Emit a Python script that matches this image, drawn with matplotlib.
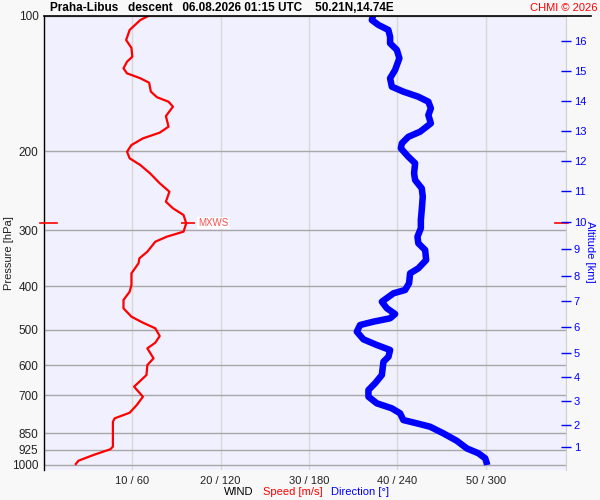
import matplotlib
matplotlib.use('Agg')
import matplotlib.pyplot as plt
from matplotlib.lines import Line2D
from matplotlib.ticker import NullLocator

plt.rcParams['font.family'] = ['Liberation Sans', 'DejaVu Sans']

# wind speed profile (hPa, m/s)
speed_p = [100, 102.1, 107.4, 113.1, 117.8, 123.2, 126.4, 130.8, 134.2, 137.6,
           140.8, 147.4, 151.7, 155.2, 159.2, 167.1, 176.4, 181.9, 187.3, 193.8,
           200.6, 207.5, 214.7, 224.0, 235.8, 246.2, 259.2, 268.1, 277.5, 289.5,
           302.2, 310.1, 318.2, 334.9, 346.5, 355.5, 374.2, 397.2, 411.1, 429.0,
           447.7, 467.4, 482.0, 496.1, 516.1, 534.2, 549.8, 578.7, 598.9, 630.4,
           669.3, 704.6, 735.3, 764.9, 787.2, 801.1, 850.3, 910.6, 922.6, 950.0,
           978.2, 995.0]
speed = [11.8, 10.9, 9.7, 9.3, 9.9, 10.0, 9.4, 9.0, 9.4, 10.9,
         11.9, 12.1, 12.8, 14.1, 14.6, 13.8, 14.1, 13.1, 11.2, 9.9,
         9.4, 9.7, 10.9, 12.0, 13.1, 14.2, 13.8, 14.6, 15.8, 16.1,
         15.8, 13.9, 12.6, 11.7, 10.8, 10.7, 9.9, 9.9, 9.7, 9.0,
         9.0, 9.9, 11.2, 12.6, 13.1, 12.6, 11.7, 12.4, 11.7, 11.6,
         10.2, 11.2, 10.5, 9.7, 8.0, 7.8, 7.8, 7.8, 7.5, 5.6,
         3.9, 3.6]

# wind direction profile (hPa, deg)
dir_p = [100, 102.1, 104.7, 107.4, 111.2, 115.0, 119.0, 124.2, 131.9, 137.6,
         143.7, 147.4, 151.3, 155.2, 160.6, 166.2, 173.4, 181.0, 185.8, 192.1,
         197.1, 205.8, 212.8, 224.0, 231.9, 242.0, 252.6, 270.5, 284.7, 297.0,
         310.1, 320.8, 332.0, 349.5, 364.7, 374.2, 393.8, 407.6, 414.6, 432.8,
         447.7, 461.0, 471.3, 479.5, 487.8, 504.8, 525.0, 540.5, 554.5, 574.0,
         588.8, 630.4, 657.7, 680.8, 704.6, 728.9, 747.8, 767.3, 794.2, 807.7,
         821.9, 850.3, 883.3, 918.4, 941.7, 966.2, 991.3, 1000]
direction = [223.5, 222.7, 227.2, 233.9, 235.1, 235.1, 239.7, 241.4, 238.5, 235.1,
             236.3, 244.1, 254.3, 261.1, 262.8, 261.1, 262.8, 255.5, 247.5, 243.1,
             242.4, 247.5, 252.1, 251.4, 252.1, 256.6, 257.3, 256.6, 256.0, 256.0,
             253.7, 254.3, 258.9, 259.6, 254.3, 248.7, 248.0, 245.3, 237.4, 229.5,
             232.9, 238.5, 235.1, 223.8, 214.7, 212.5, 217.0, 226.1, 235.1, 234.0,
             230.6, 229.5, 224.9, 220.4, 220.4, 226.1, 236.3, 241.9, 244.1, 253.3,
             262.3, 271.3, 280.4, 287.2, 295.1, 299.7, 300.8, 301.0]

pressure_ticks = [100, 200, 300, 400, 500, 600, 700, 850, 925, 1000]
speed_ticks = [10, 20, 30, 40, 50]
speed_labels = ['10 / 60', '20 / 120', '30 / 180', '40 / 240', '50 / 300']
alt_km = list(range(1, 17))
alt_p = [911.7, 814.5, 720.3, 636.8, 563.1, 492.7, 431.2, 379.5, 330.3, 287.6,
         245.3, 210.3, 180.3, 154.6, 132.6, 113.7]

mxws_p = 288.5
mxws_speed = 16.3

x_max = 59.1
p_bottom = 1026

fig = plt.figure(figsize=(6, 5), dpi=100, facecolor='#f8f8f8')
ax = fig.add_axes([44 / 600, 30 / 500, 522 / 600, 454 / 500])
ax.set_facecolor('#f0f0fe')

ax.set_yscale('log')
ax.set_ylim(p_bottom, 100)
ax.set_xlim(0, x_max)
ax.yaxis.set_minor_locator(NullLocator())
ax.set_yticks(pressure_ticks)
ax.set_yticklabels([str(p) for p in pressure_ticks])
ax.set_xticks(speed_ticks)
ax.set_xticklabels(speed_labels)
ax.tick_params(axis='y', length=0, pad=4, labelsize=8.5, colors='#222222')
ax.tick_params(axis='x', length=0, pad=4, labelsize=8, colors='#222222')

ax.grid(axis='y', color='#a8a8a8', lw=1.0)
ax.grid(axis='x', color='#d8d8d8', lw=1.0)
ax.set_axisbelow(True)

ax.spines['left'].set_color('black')
ax.spines['left'].set_linewidth(1.0)
ax.spines['bottom'].set_visible(False)
ax.spines['top'].set_visible(False)
ax.spines['right'].set_color('#d0d0d0')

# rychlost vetru
ax.plot(speed, speed_p, color='#ff0000', lw=1.6, solid_joinstyle='round', zorder=3)

# smer vetru na vlastni ose
ax2 = ax.twiny()
ax2.set_xlim(0, x_max * 6)
ax2.set_xticks([])
for s in ax2.spines.values():
    s.set_visible(False)
ax2.plot(direction, dir_p, color='#0000ff', lw=4.7, solid_capstyle='butt',
         solid_joinstyle='round', zorder=3)

# vyska vpravo
ax3 = ax.twinx()
ax3.set_yscale('log')
ax3.set_ylim(p_bottom, 100)
ax3.yaxis.set_minor_locator(NullLocator())
ax3.set_yticks(alt_p)
ax3.set_yticklabels([str(a) for a in alt_km])
ax3.tick_params(axis='y', direction='inout', length=7, width=1, colors='#0000ff',
                labelsize=8, pad=2)
for s in ax3.spines.values():
    s.set_visible(False)

# MXWS
ax.plot([mxws_speed], [mxws_p], marker='_', ms=10, mew=1.2, color='#ff0000', zorder=4)
ax.annotate('MXWS', (mxws_speed, mxws_p), xytext=(7.5, 0), textcoords='offset points',
            color='#ff5050', fontsize=7, va='center', ha='left', zorder=5,
            bbox=dict(facecolor='white', edgecolor='none', pad=0.8))
tr = ax.get_yaxis_transform()
ax.plot([-0.008, 0.025], [mxws_p, mxws_p], color='#ff0000', lw=1.2,
        transform=tr, clip_on=False, zorder=5)
ax.plot([0.979, 1.004], [mxws_p, mxws_p], color='#ff0000', lw=1.2,
        transform=tr, clip_on=False, zorder=5)

fig.add_artist(Line2D([44 / 600, 591 / 600], [1 - 16 / 500, 1 - 16 / 500],
                      color='black', lw=1.2))

fig.text(50 / 600, 1 - 8 / 500,
         'Praha-Libus   descent   06.08.2026 01:15 UTC    50.21N,14.74E',
         fontsize=8.5, weight='bold', va='center', ha='left')
fig.text(597 / 600, 1 - 8 / 500, 'CHMI © 2026', fontsize=8, color='#ff0000',
         va='center', ha='right')
fig.text(9 / 600, 1 - 253 / 500, 'Pressure [hPa]', rotation=90, fontsize=8,
         va='center', ha='center', color='#222222')
fig.text(590 / 600, 1 - 252 / 500, 'Altitude [km]', rotation=270, fontsize=8,
         va='center', ha='center', color='#0000ff')

fig.text(239 / 600, 1 - 492 / 500, 'WIND', fontsize=8, ha='center', va='center')
fig.text(293 / 600, 1 - 492 / 500, 'Speed [m/s]', fontsize=8, ha='center', va='center',
         color='#ff0000')
fig.text(360 / 600, 1 - 492 / 500, 'Direction [°]', fontsize=8, ha='center', va='center',
         color='#0000ff')

fig.savefig('out.png', dpi=100, facecolor=fig.get_facecolor())
